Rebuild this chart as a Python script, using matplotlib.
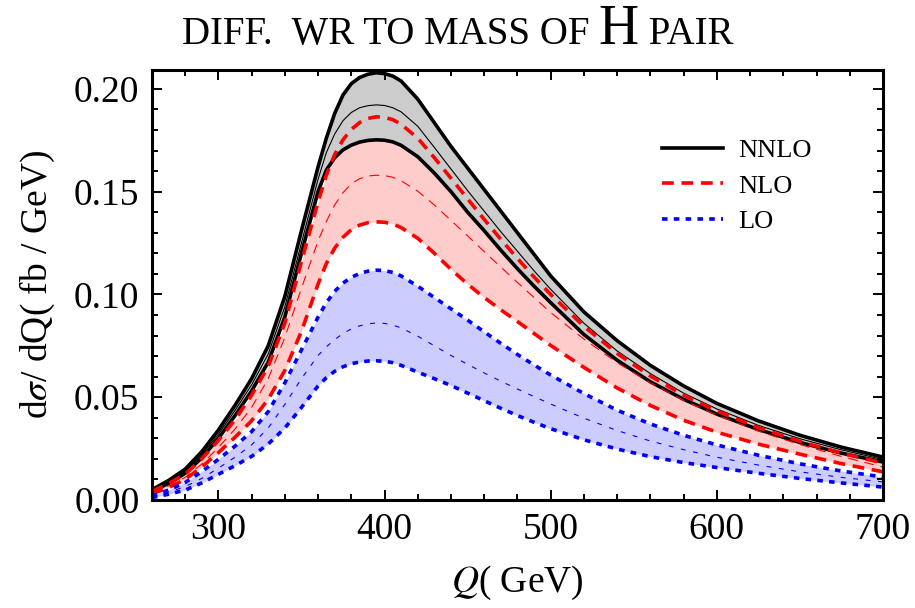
import matplotlib
matplotlib.use("Agg")
import matplotlib.pyplot as plt
from matplotlib.lines import Line2D

#################################################################
# DATOS
#################################################################
q = [260, 270, 280, 290, 300, 310, 320, 330, 340, 350,
     360, 365, 370, 375, 380, 385, 390, 395, 400, 405,
     410, 420, 430, 440, 450, 460, 470, 480, 490, 500,
     520, 540, 560, 580, 600, 625, 650, 675, 700]

# NNLO: borde superior, central, borde inferior
nnlo_up = [0.0050, 0.0095, 0.0150, 0.0235, 0.0340, 0.0460, 0.0590, 0.0750, 0.0990, 0.1310,
           0.1620, 0.1760, 0.1880, 0.1970, 0.2025, 0.2055, 0.2071, 0.2078, 0.2074, 0.2062,
           0.2038, 0.1950, 0.1835, 0.1720, 0.1615, 0.1510, 0.1405, 0.1300, 0.1195, 0.1090,
           0.0915, 0.0775, 0.0655, 0.0555, 0.0470, 0.0385, 0.0315, 0.0257, 0.0209]
nnlo_mid = [0.0046, 0.0088, 0.0140, 0.0220, 0.0320, 0.0435, 0.0560, 0.0710, 0.0940, 0.1250,
            0.1560, 0.1690, 0.1780, 0.1845, 0.1885, 0.1908, 0.1918, 0.1922, 0.1919, 0.1908,
            0.1888, 0.1818, 0.1715, 0.1610, 0.1505, 0.1405, 0.1305, 0.1210, 0.1115, 0.1025,
            0.0860, 0.0725, 0.0615, 0.0520, 0.0443, 0.0363, 0.0298, 0.0244, 0.0197]
nnlo_lo = [0.0042, 0.0081, 0.0130, 0.0205, 0.0300, 0.0410, 0.0530, 0.0670, 0.0890, 0.1200,
           0.1500, 0.1605, 0.1665, 0.1703, 0.1726, 0.1741, 0.1749, 0.1752, 0.1750, 0.1742,
           0.1725, 0.1670, 0.1590, 0.1500, 0.1400, 0.1310, 0.1215, 0.1125, 0.1040, 0.0960,
           0.0805, 0.0680, 0.0575, 0.0490, 0.0418, 0.0343, 0.0280, 0.0228, 0.0185]

# NLO
nlo_up = [0.0042, 0.0080, 0.0125, 0.0200, 0.0290, 0.0390, 0.0510, 0.0650, 0.0860, 0.1160,
          0.1450, 0.1580, 0.1680, 0.1752, 0.1802, 0.1836, 0.1856, 0.1864, 0.1861, 0.1850,
          0.1828, 0.1760, 0.1665, 0.1565, 0.1465, 0.1365, 0.1268, 0.1175, 0.1085, 0.1000,
          0.0845, 0.0713, 0.0603, 0.0510, 0.0433, 0.0352, 0.0285, 0.0228, 0.0180]
nlo_mid = [0.0035, 0.0068, 0.0110, 0.0175, 0.0255, 0.0345, 0.0450, 0.0590, 0.0790, 0.1030,
           0.1260, 0.1355, 0.1435, 0.1495, 0.1538, 0.1563, 0.1576, 0.1580, 0.1578, 0.1570,
           0.1553, 0.1502, 0.1435, 0.1360, 0.1285, 0.1208, 0.1133, 0.1058, 0.0985, 0.0912,
           0.0783, 0.0668, 0.0570, 0.0485, 0.0413, 0.0335, 0.0270, 0.0212, 0.0160]
nlo_lo = [0.0030, 0.0060, 0.0100, 0.0160, 0.0230, 0.0305, 0.0385, 0.0490, 0.0630, 0.0820,
          0.1050, 0.1150, 0.1225, 0.1278, 0.1315, 0.1337, 0.1349, 0.1353, 0.1351, 0.1343,
          0.1325, 0.1273, 0.1200, 0.1122, 0.1050, 0.0985, 0.0925, 0.0868, 0.0810, 0.0752,
          0.0645, 0.0545, 0.0460, 0.0388, 0.0330, 0.0272, 0.0223, 0.0177, 0.0137]

# LO
lo_up = [0.0020, 0.0048, 0.0085, 0.0138, 0.0198, 0.0262, 0.0333, 0.0430, 0.0570, 0.0730,
         0.0890, 0.0960, 0.1015, 0.1055, 0.1083, 0.1102, 0.1113, 0.1118, 0.1116, 0.1107,
         0.1090, 0.1040, 0.0985, 0.0930, 0.0875, 0.0818, 0.0762, 0.0708, 0.0657, 0.0608,
         0.0518, 0.0437, 0.0370, 0.0315, 0.0268, 0.0218, 0.0176, 0.0141, 0.0112]
lo_mid = [0.0017, 0.0038, 0.0065, 0.0105, 0.0155, 0.0208, 0.0268, 0.0350, 0.0465, 0.0590,
          0.0703, 0.0745, 0.0780, 0.0810, 0.0832, 0.0847, 0.0857, 0.0861, 0.0859, 0.0851,
          0.0837, 0.0797, 0.0750, 0.0703, 0.0660, 0.0618, 0.0578, 0.0540, 0.0503, 0.0467,
          0.0398, 0.0338, 0.0287, 0.0245, 0.0208, 0.0170, 0.0137, 0.0110, 0.0088]
lo_lo = [0.0012, 0.0028, 0.0048, 0.0083, 0.0125, 0.0167, 0.0212, 0.0272, 0.0350, 0.0450,
         0.0555, 0.0595, 0.0626, 0.0648, 0.0663, 0.0671, 0.0676, 0.0677, 0.0675, 0.0668,
         0.0655, 0.0622, 0.0590, 0.0557, 0.0520, 0.0483, 0.0446, 0.0411, 0.0378, 0.0347,
         0.0293, 0.0248, 0.0211, 0.0182, 0.0158, 0.0130, 0.0105, 0.0083, 0.0063]

x_ticks = [300, 400, 500, 600, 700]
y_ticks = [0.00, 0.05, 0.10, 0.15, 0.20]
y_tick_labels = ["0.00", "0.05", "0.10", "0.15", "0.20"]
nombres = ["NNLO", "NLO", "LO"]

#################################################################
# ESTILO
#################################################################
plt.rcParams["font.family"] = ["Liberation Serif", "DejaVu Serif"]
plt.rcParams["mathtext.fontset"] = "stix"
plt.rcParams["lines.scale_dashes"] = False

GRIS = "#cccccc"
ROSA = "#ffcccc"
LILA = "#ccccff"
GUION = (8.5, 5.5)
PUNTO = (4, 4.5)

fig = plt.figure(figsize=(9.15, 6.08), dpi=100)
ax = fig.add_axes([0.166, 0.1776, 0.799, 0.7074])

# bandas
ax.fill_between(q, lo_lo, lo_up, color=LILA, lw=0)
ax.fill_between(q, nlo_lo, nlo_up, color=ROSA, lw=0)
ax.fill_between(q, nnlo_lo, nnlo_up, color=GRIS, lw=0)

# NNLO
ax.plot(q, nnlo_up, color="black", lw=2.6)
ax.plot(q, nnlo_lo, color="black", lw=2.6)
ax.plot(q, nnlo_mid, color="black", lw=0.8)

# NLO
ax.plot(q, nlo_up, color="red", lw=2.6, dashes=GUION)
ax.plot(q, nlo_lo, color="red", lw=2.6, dashes=GUION)
ax.plot(q, nlo_mid, color="red", lw=0.8, dashes=(7, 5))

# LO
ax.plot(q, lo_up, color="blue", lw=2.6, dashes=PUNTO)
ax.plot(q, lo_lo, color="blue", lw=2.6, dashes=PUNTO)
ax.plot(q, lo_mid, color="blue", lw=0.8, dashes=(3.5, 5.5))

ax.set_xlim(260, 700)
ax.set_ylim(0, 0.2092)

ax.set_xticks(x_ticks)
ax.set_xticks(range(260, 701, 20), minor=True)
ax.set_yticks(y_ticks)
ax.set_yticklabels(y_tick_labels)
ax.set_yticks([i * 0.01 for i in range(0, 21)], minor=True)

ax.tick_params(which="both", direction="in", top=True, right=True, labelsize=27, width=1.4)
ax.tick_params(which="major", length=7)
ax.tick_params(which="minor", length=4)
ax.tick_params(axis="y", pad=9)
ax.tick_params(axis="x", pad=9)
for s in ax.spines.values():
    s.set_linewidth(2.2)

ax.set_xlabel("$Q$( GeV)", fontsize=27, labelpad=12)
ax.set_ylabel("d$\\sigma$/ dQ( fb / GeV)", fontsize=27, labelpad=12)

# leyenda
handles = [
    Line2D([], [], color="black", lw=2.6),
    Line2D([], [], color="red", lw=2.6, dashes=GUION),
    Line2D([], [], color="blue", lw=2.6, dashes=PUNTO),
]
ax.legend(handles, nombres, loc="upper left", bbox_to_anchor=(0.665, 0.895),
          frameon=False, fontsize=19, handlelength=2.3, handletextpad=0.6, labelspacing=0.45)

# titulo en versalitas con H grande
partes = [("DIFF.  WR TO MASS OF ", 28), ("H", 40), (" PAIR", 28)]
renderer = fig.canvas.get_renderer()
textos = []
ancho = 0
for txt, tam in partes:
    t = fig.text(0, 0.928, txt, fontsize=tam, va="baseline", ha="left")
    w = t.get_window_extent(renderer).width
    textos.append((t, w))
    ancho += w
x0 = (915 - ancho) / 2
for t, w in textos:
    t.set_x(x0 / 915)
    x0 += w

fig.savefig("out.png", dpi=100)
